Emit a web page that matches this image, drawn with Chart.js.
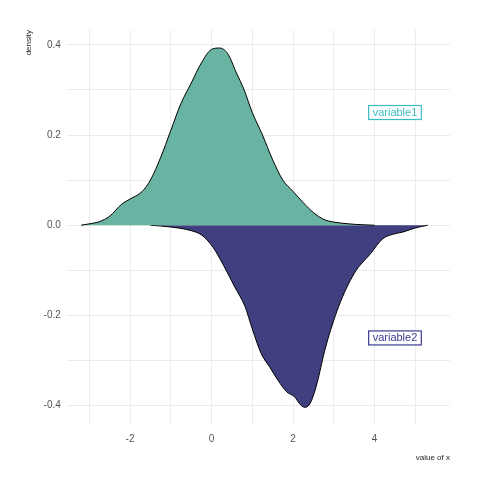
<!DOCTYPE html>
<html>
<head>
<script src="https://cdn.jsdelivr.net/npm/chart.js@4"></script>
<style>body{margin:0;background:#fff}#wrap{width:480px;height:480px}</style>
</head>
<body>
<div id="wrap"><canvas id="c"></canvas></div>
<script>
// density of variable1 (above zero)
const x1 = [-3.2, -3, -2.75, -2.5, -2.2, -2, -1.7, -1.5, -1.25, -1, -0.75, -0.5, -0.25, 0, 0.2, 0.4, 0.6, 0.8, 1, 1.25, 1.5, 1.75, 2, 2.25, 2.5, 2.75, 3, 3.25, 3.5, 4];
const y1 = [0, 0.003, 0.008, 0.02, 0.047, 0.058, 0.075, 0.1, 0.15, 0.21, 0.27, 0.315, 0.36, 0.39, 0.393, 0.38, 0.34, 0.3, 0.25, 0.2, 0.145, 0.1, 0.075, 0.05, 0.028, 0.013, 0.007, 0.004, 0.002, 0];
// density of variable2 (mirrored below zero)
const x2 = [-1.5, -1, -0.5, -0.24, 0.03, 0.3, 0.57, 0.82, 1.0, 1.22, 1.43, 1.63, 1.85, 2.03, 2.2, 2.3, 2.42, 2.56, 2.8, 3.12, 3.5, 3.9, 4.2, 4.45, 4.7, 5.0, 5.3];
const y2 = [0, -0.004, -0.012, -0.022, -0.048, -0.09, -0.137, -0.18, -0.23, -0.285, -0.315, -0.344, -0.37, -0.38, -0.4, -0.404, -0.395, -0.36, -0.27, -0.18, -0.107, -0.063, -0.03, -0.02, -0.015, -0.006, 0];
const labels = [
  { text: "variable1", x: 4.5, y: 0.25, color: "#3bbcc0" },
  { text: "variable2", x: 4.5, y: -0.25, color: "#3b3b8f" }
];

const pts = (xs, ys) => xs.map((v, i) => ({ x: v, y: ys[i] }));

const labelPlugin = {
  id: "boxLabels",
  afterDatasetsDraw(chart) {
    const { ctx, scales } = chart;
    ctx.save();
    ctx.font = "11px 'Liberation Sans', Arial";
    ctx.textAlign = "center";
    ctx.textBaseline = "middle";
    labels.forEach(l => {
      const px = scales.x.getPixelForValue(l.x);
      const py = scales.y.getPixelForValue(l.y);
      const w = ctx.measureText(l.text).width + 8;
      ctx.fillStyle = "#fff";
      ctx.fillRect(px - w / 2, py - 7, w, 14);
      ctx.strokeStyle = l.color;
      ctx.lineWidth = 1.2;
      ctx.strokeRect(px - w / 2, py - 7, w, 14);
      ctx.fillStyle = l.color;
      ctx.fillText(l.text, px, py + 0.5);
    });
    ctx.restore();
  }
};

new Chart(document.getElementById("c"), {
  type: "line",
  data: {
    datasets: [
      { data: pts(x1, y1), backgroundColor: "#69b3a2", borderColor: "#000", borderWidth: 1, fill: "origin", pointRadius: 0, tension: 0.4, cubicInterpolationMode: "monotone" },
      { data: pts(x2, y2), backgroundColor: "#404080", borderColor: "#000", borderWidth: 1, fill: "origin", pointRadius: 0, tension: 0.4, cubicInterpolationMode: "monotone" }
    ]
  },
  options: {
    responsive: true,
    maintainAspectRatio: false,
    animation: false,
    layout: { padding: { left: 20, right: 30, top: 30, bottom: 13 } },
    plugins: { legend: { display: false }, tooltip: { enabled: false } },
    scales: {
      x: {
        type: "linear", min: -3.55, max: 5.85,
        afterBuildTicks: s => { s.ticks = [-3, -2, -1, 0, 1, 2, 3, 4, 5].map(v => ({ value: v })); },
        grid: { color: "#ebebeb", drawTicks: false },
        border: { display: false },
        ticks: { color: "#555", font: { size: 10 }, padding: 8, callback: v => (v % 2 === 0 ? v : "") },
        title: { display: true, text: "value of x", align: "end", color: "#222", font: { size: 8 }, padding: { top: 0 } }
      },
      y: {
        min: -0.444, max: 0.433,
        afterBuildTicks: s => { s.ticks = [-0.4, -0.3, -0.2, -0.1, 0, 0.1, 0.2, 0.3, 0.4].map(v => ({ value: v })); },
        grid: { color: "#ebebeb", drawTicks: false },
        border: { display: false },
        ticks: { color: "#555", font: { size: 10 }, padding: 6, callback: v => (Math.round(v * 10) % 2 === 0 ? v.toFixed(1) : "") },
        title: { display: true, text: "density", align: "end", color: "#222", font: { size: 8 } }
      }
    }
  },
  plugins: [labelPlugin]
});
</script>
</body>
</html>
